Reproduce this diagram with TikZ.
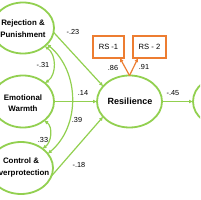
\documentclass[tikz,border=0pt]{standalone}
\usepackage{fontspec}
\setmainfont{Liberation Sans}
\usetikzlibrary{arrows.meta,calc,shapes.geometric}
\definecolor{grn}{RGB}{146,208,80}
\definecolor{org}{RGB}{237,125,49}
\begin{document}
\begin{tikzpicture}[x=1pt,y=1pt,
  lat/.style={ellipse,draw=grn,line width=1.8pt,inner sep=0pt,outer sep=0pt},
  lbl/.style={align=center,font=\bfseries\fontsize{7.9}{11.5}\selectfont,inner sep=0pt},
  rsbox/.style={rectangle,draw=org,line width=1.3pt,fill=white,font=\fontsize{7.6}{9}\selectfont,minimum height=22pt,inner sep=0pt,outer sep=0pt},
  num/.style={font=\fontsize{7.3}{8}\selectfont,inner sep=0pt},
  path/.style={draw=grn,line width=1.2pt,-{Latex[length=4pt,width=4pt]}},
  cov/.style={draw=grn,line width=1.2pt,{Latex[length=4pt,width=4pt]}-{Latex[length=4pt,width=4pt]}},
  load/.style={draw=org,line width=1.2pt,-{Latex[length=4pt,width=4pt]}}]
\useasboundingbox (0,0) rectangle (200,200);
\clip (0,0) rectangle (200,200);
\fill[white] (0,0) rectangle (200,200);
% latent ellipses
\node[lat,minimum width=62pt,minimum height=51pt] (E1) at (23,172) {};
\node[lat,minimum width=62pt,minimum height=52pt] (E2) at (23,98.5) {};
\node[lat,minimum width=64pt,minimum height=52pt] (E3) at (21,32) {};
\node[lat,minimum width=65pt,minimum height=52pt] (R) at (129.5,98.5) {};
\node[lat,minimum width=65pt,minimum height=52pt] (O) at (225.5,98.5) {};
% labels
\node[lbl] (E1t) at (23,171.5) {Rejection \&\\Punishment};
\node[lbl] (E2t) at (23,97) {Emotional\\Warmth};
\node[lbl] (E3t) at (21,32.5) {Control \&\\Overprotection};
\node[lbl,font=\bfseries\fontsize{9}{11}\selectfont] (Rt) at (130,99) {Resilience};
% indicator boxes
\node[rsbox,minimum width=31pt] (RS1) at (108.5,153) {RS -1};
\node[rsbox,minimum width=33pt] (RS2) at (149.5,153) {RS - 2};
% loadings
\draw[load] (R.north) -- (RS1.-44);
\draw[load] (R.north) -- (RS2.-136);
\node[num] (n86) at (113,132) {.86};
\node[num] (n91) at (144,133) {.91};
% structural paths
\draw[path] (E1.-8) -- (R.150);
\draw[path] (E2) -- (R);
\draw[path] (E3.-15) -- (R.-150);
\draw[path] (R) -- (O);
\node[num] (n23) at (73,168) {-.23};
\node[num] (n14) at (83,107) {.14};
\node[num] (n18) at (79,35) {-.18};
\node[num] (n45) at (173,107) {-.45};
% covariances
\draw[cov] (E1.-40) to[out=-35,in=35] (E2.40);
\draw[cov] (E2.-42) to[out=-35,in=35] (E3.42);
\draw[cov] (E1.-34) to[out=-40,in=40] (E3.28);
\node[num] (n31) at (43,135) {-.31};
\node[num] (n33) at (43,60) {.33};
\node[num] (n39) at (77,80) {.39};
\end{tikzpicture}
\end{document}
